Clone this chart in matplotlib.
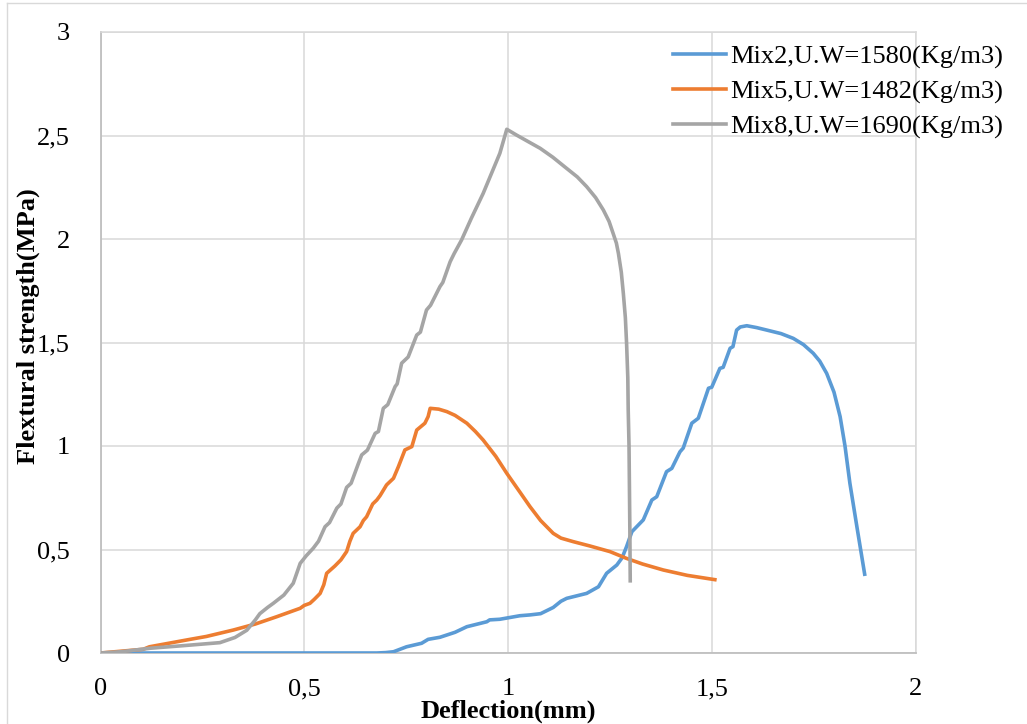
import matplotlib
matplotlib.use("Agg")
import matplotlib.pyplot as plt
from matplotlib.ticker import FuncFormatter, MultipleLocator
from matplotlib.lines import Line2D

plt.rcParams['font.family'] = ['Liberation Serif', 'DejaVu Serif']

# Load-deflection curves (deflection in mm, flexural strength in MPa)
mix2_x = [0, 0.678, 0.70, 0.719, 0.751, 0.788, 0.804, 0.833, 0.87, 0.899, 0.948, 0.955,
          0.98, 1.029, 1.054, 1.08, 1.111, 1.13, 1.144, 1.193, 1.222, 1.242, 1.267, 1.28,
          1.291, 1.304, 1.332, 1.353, 1.365, 1.389, 1.402, 1.422, 1.43, 1.451, 1.467,
          1.492, 1.50, 1.52, 1.528, 1.545, 1.552, 1.561, 1.57, 1.586, 1.61, 1.635, 1.67,
          1.70, 1.725, 1.749, 1.765, 1.782, 1.80, 1.815, 1.827, 1.839, 1.857, 1.876]
mix2_y = [0, 0.0, 0.002, 0.006, 0.03, 0.047, 0.066, 0.076, 0.10, 0.127, 0.151, 0.16,
          0.163, 0.18, 0.184, 0.19, 0.22, 0.25, 0.264, 0.288, 0.32, 0.385, 0.425, 0.46,
          0.514, 0.586, 0.643, 0.739, 0.755, 0.876, 0.892, 0.972, 0.99, 1.11, 1.134,
          1.279, 1.284, 1.375, 1.38, 1.472, 1.48, 1.56, 1.575, 1.581, 1.572, 1.56, 1.543,
          1.52, 1.49, 1.448, 1.41, 1.351, 1.26, 1.142, 1.0, 0.82, 0.6, 0.372]

mix5_x = [0, 0.105, 0.12, 0.22, 0.26, 0.326, 0.38, 0.432, 0.49, 0.50, 0.514, 0.525,
          0.539, 0.548, 0.555, 0.575, 0.59, 0.604, 0.612, 0.62, 0.637, 0.645, 0.653,
          0.668, 0.678, 0.686, 0.702, 0.719, 0.731, 0.747, 0.764, 0.776, 0.796, 0.804,
          0.809, 0.83, 0.85, 0.87, 0.899, 0.92, 0.939, 0.97, 0.997, 1.03, 1.054, 1.08,
          1.111, 1.13, 1.16, 1.201, 1.25, 1.291, 1.33, 1.381, 1.44, 1.512]
mix5_y = [0, 0.018, 0.03, 0.066, 0.08, 0.111, 0.14, 0.175, 0.216, 0.23, 0.24, 0.26,
          0.288, 0.33, 0.385, 0.42, 0.45, 0.49, 0.54, 0.578, 0.61, 0.64, 0.658,
          0.72, 0.739, 0.76, 0.812, 0.844, 0.90, 0.981, 0.997, 1.077, 1.11, 1.142,
          1.182, 1.178, 1.166, 1.148, 1.11, 1.07, 1.029, 0.95, 0.868, 0.775, 0.707, 0.64,
          0.578, 0.555, 0.538, 0.517, 0.49, 0.457, 0.43, 0.401, 0.375, 0.353]

mix8_x = [0, 0.05, 0.122, 0.2, 0.293, 0.33, 0.359, 0.38, 0.391, 0.41, 0.424, 0.45,
          0.473, 0.49, 0.505, 0.522, 0.535, 0.551, 0.562, 0.58, 0.59, 0.604, 0.615,
          0.633, 0.641, 0.655, 0.674, 0.682, 0.694, 0.705, 0.723, 0.728, 0.739, 0.755,
          0.776, 0.785, 0.80, 0.81, 0.833, 0.84, 0.858, 0.868, 0.886, 0.91, 0.939, 0.98,
          0.997, 1.021, 1.05, 1.079, 1.11, 1.144, 1.17, 1.193, 1.215, 1.234, 1.248,
          1.258, 1.266, 1.271, 1.278, 1.283, 1.288, 1.291, 1.294, 1.295, 1.297, 1.298,
          1.299, 1.30]
mix8_y = [0, 0.006, 0.023, 0.035, 0.05, 0.075, 0.11, 0.16, 0.19, 0.22, 0.24, 0.28,
          0.337, 0.433, 0.47, 0.506, 0.54, 0.61, 0.63, 0.70, 0.72, 0.80, 0.82,
          0.916, 0.957, 0.98, 1.061, 1.07, 1.182, 1.20, 1.287, 1.30, 1.40, 1.43,
          1.536, 1.55, 1.657, 1.68, 1.77, 1.79, 1.89, 1.93, 1.995, 2.10, 2.22, 2.414,
          2.53, 2.502, 2.47, 2.438, 2.395, 2.341, 2.30, 2.253, 2.2, 2.14, 2.085,
          2.027, 1.98, 1.93, 1.84, 1.738, 1.62, 1.496, 1.33, 1.174, 1.0, 0.8,
          0.6, 0.34]

labels = ['Mix2,U.W=1580(Kg/m3)', 'Mix5,U.W=1482(Kg/m3)', 'Mix8,U.W=1690(Kg/m3)']
colors = ['#5B9BD5', '#ED7D31', '#A5A5A5']

W, H = 1027, 724
fig = plt.figure(figsize=(W / 100, H / 100), dpi=100)
ax = fig.add_axes([100.5 / W, 1 - 653 / H, 815 / W, 621 / H])

series = [(mix2_x, mix2_y), (mix5_x, mix5_y), (mix8_x, mix8_y)]
for (xs, ys), lab, c in zip(series, labels, colors):
    ax.plot(xs, ys, color=c, lw=2.6, label=lab, solid_joinstyle='round',
            solid_capstyle='butt', zorder=3)

ax.set_xlim(0, 2)
ax.set_ylim(0, 3)
ax.xaxis.set_major_locator(MultipleLocator(0.5))
ax.yaxis.set_major_locator(MultipleLocator(0.5))
comma = FuncFormatter(lambda v, p: '{:g}'.format(v).replace('.', ','))
ax.xaxis.set_major_formatter(comma)
ax.yaxis.set_major_formatter(comma)
ax.grid(True, color='#D9D9D9', lw=1.1, zorder=0)
ax.set_axisbelow(True)
ax.tick_params(length=0, labelsize=19, colors='black')
ax.tick_params(axis='y', pad=22)
ax.tick_params(axis='x', pad=18)
for s in ['top', 'right']:
    ax.spines[s].set_color('#D9D9D9')
    ax.spines[s].set_linewidth(1.1)
for s in ['left', 'bottom']:
    ax.spines[s].set_color('#BFBFBF')
    ax.spines[s].set_linewidth(1.3)

fig.text(508 / W, 1 - 711 / H, 'Deflection(mm)', fontsize=19, fontweight='bold',
         ha='center', va='center')
fig.text(28 / W, 1 - 326 / H, 'Flextural strength(MPa)', fontsize=19,
         fontweight='bold', rotation=90, ha='center', va='center')

handles = [Line2D([], [], color=c, lw=2.6) for c in colors]
fig.legend(handles, labels, loc='upper left', bbox_to_anchor=(673 / W, 1 - 45 / H),
           frameon=False, fontsize=19, borderpad=0, borderaxespad=0,
           handlelength=2.0, handletextpad=0.15, labelspacing=0.42)

# chart area outline
fig.add_artist(Line2D([7 / W, 7 / W], [0, 1 - 3 / H], transform=fig.transFigure,
                      color='#D9D9D9', lw=1))
fig.add_artist(Line2D([7 / W, 1], [1 - 3 / H, 1 - 3 / H], transform=fig.transFigure,
                      color='#D9D9D9', lw=1))

fig.savefig('out.png', dpi=100)
